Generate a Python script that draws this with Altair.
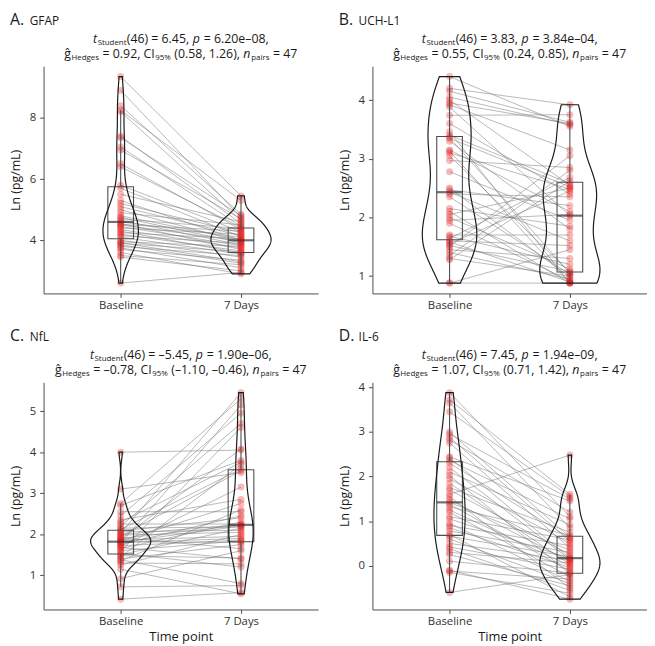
import altair as alt
import numpy as np
import pandas as pd

# ---------------- data ----------------
time_labels = ["Baseline", "7 Days"]
panel_letters = ["A.", "B.", "C.", "D."]
panel_names = ["GFAP", "UCH-L1", "NfL", "IL-6"]

gfap_baseline = [2.6, 3.45, 3.5, 3.6, 3.7, 3.75, 3.8, 3.85, 3.9, 3.92, 3.95, 4.0,
                 4.1, 4.15, 4.2, 4.25, 4.3, 4.35, 4.4, 4.45, 4.5, 4.52, 4.55, 4.6,
                 4.65, 4.7, 4.75, 4.8, 4.9, 5.0, 5.1, 5.2, 5.3, 5.5, 5.7, 5.8,
                 6.4, 6.5, 6.95, 7.05, 7.35, 7.4, 8.2, 8.25, 8.4, 8.9, 9.35]
gfap_day7 = [2.95, 3.0, 3.2, 2.9, 3.35, 3.1, 3.5, 3.25, 3.62, 3.3, 3.8, 3.45,
             3.55, 3.9, 3.65, 4.05, 3.58, 3.75, 4.2, 3.82, 3.98, 4.3, 3.7, 4.1,
             3.85, 4.38, 3.92, 4.02, 4.5, 3.95, 4.15, 4.25, 4.0, 4.6, 4.12, 4.28,
             4.42, 4.35, 4.7, 4.45, 4.8, 4.55, 4.65, 5.3, 4.85, 4.75, 5.45]

uchl1_baseline = [0.88, 0.88, 1.28, 1.3, 1.35, 1.4, 1.45, 1.5, 1.52, 1.55, 1.58, 1.6,
                  1.64, 1.68, 1.7, 1.9, 1.95, 2.0, 2.05, 2.1, 2.15, 2.35, 2.4, 2.43,
                  2.47, 2.5, 2.78, 2.97, 3.05, 3.1, 3.13, 3.15, 3.3, 3.35, 3.36, 3.4,
                  3.46, 3.6, 3.74, 3.88, 3.92, 3.95, 4.0, 4.05, 4.15, 4.2, 4.4]
uchl1_day7 = [0.88, 1.45, 2.62, 1.0, 2.8, 0.95, 1.3, 3.05, 1.08, 2.45, 0.9, 1.52,
              2.68, 1.2, 1.7, 0.92, 2.05, 1.12, 2.5, 0.88, 1.85, 1.03, 2.35, 1.6,
              2.2, 0.98, 1.95, 2.85, 1.06, 2.48, 0.88, 2.1, 1.8, 2.52, 1.05, 2.58,
              0.88, 2.4, 3.75, 2.03, 3.15, 3.6, 2.55, 3.58, 3.62, 3.92, 3.55]

nfl_baseline = [0.42, 0.72, 0.92, 1.15, 1.25, 1.3, 1.35, 1.38, 1.4, 1.45, 1.48, 1.5,
                1.54, 1.58, 1.6, 1.65, 1.68, 1.7, 1.72, 1.75, 1.78, 1.8, 1.81, 1.82,
                1.84, 1.86, 1.88, 1.9, 1.92, 1.95, 1.98, 2.0, 2.03, 2.06, 2.08, 2.12,
                2.15, 2.2, 2.25, 2.3, 2.35, 2.45, 2.55, 2.7, 2.75, 3.1, 4.0]
nfl_day7 = [0.58, 0.75, 1.6, 0.55, 2.0, 1.28, 2.6, 0.8, 1.75, 3.7, 1.42, 2.15,
            1.2, 4.6, 1.84, 2.3, 1.4, 3.15, 1.86, 2.45, 5.15, 1.9, 2.2, 1.8,
            2.75, 1.95, 4.08, 2.22, 1.65, 3.55, 2.05, 2.23, 5.45, 2.1, 2.4, 3.59,
            2.18, 4.7, 2.25, 3.75, 2.85, 4.95, 2.55, 3.8, 5.3, 3.5, 4.05]

il6_baseline = [-0.6, -0.15, -0.12, -0.1, 0.1, 0.25, 0.3, 0.38, 0.42, 0.5, 0.6, 0.66,
                0.7, 0.78, 0.85, 0.9, 0.95, 1.05, 1.1, 1.2, 1.25, 1.32, 1.38, 1.42,
                1.48, 1.55, 1.6, 1.7, 1.75, 1.85, 1.95, 2.02, 2.1, 2.2, 2.3, 2.36,
                2.42, 2.44, 2.75, 2.82, 2.88, 2.95, 3.0, 3.45, 3.65, 3.72, 3.88]
il6_day7 = [-0.2, -0.62, -0.3, -0.75, -0.16, -0.45, 0.06, -0.55, -0.08, 0.12, -0.4, 0.2,
            -0.7, 0.3, -0.04, 0.45, -0.35, 0.16, 0.58, -0.25, 0.0, 0.68, -0.12, 0.35,
            0.1, -0.5, 2.48, 0.25, 0.75, 0.03, 0.5, -0.18, 0.92, 0.14, 0.62, 1.05,
            0.17, 1.45, 0.4, 1.2, 0.55, 1.5, 0.64, 1.55, 0.85, 1.6, 1.1]

series = [(gfap_baseline, gfap_day7), (uchl1_baseline, uchl1_day7),
          (nfl_baseline, nfl_day7), (il6_baseline, il6_day7)]

y_ticks = [[4, 6, 8], [1, 2, 3, 4], [1, 2, 3, 4, 5], [0, 1, 2, 3, 4]]

t_df = "46"
t_stat = ["6.45", "3.83", "–5.45", "7.45"]
p_value = ["6.20e–08", "3.84e–04", "1.90e–06", "1.94e–09"]
g_hedges = ["0.92", "0.55", "–0.78", "1.07"]
ci_low = ["0.58", "0.24", "–1.10", "0.71"]
ci_high = ["1.26", "0.85", "–0.46", "1.42"]
n_pairs = "47"

# ---------------- layout / style ----------------
W, H = 278, 230
FONT = "Open Sans"
TXT = "#1a1a1a"
AX = "#4d4d4d"

# approximate Open Sans advance widths (em)
EM = {' ': 0.26, '(': 0.295, ')': 0.295, ',': 0.245, '.': 0.266, '=': 0.572,
      '–': 0.5, '%': 0.833, 'C': 0.633, 'H': 0.742, 'I': 0.29, 'S': 0.539,
      'a': 0.556, 'd': 0.613, 'e': 0.561, 'g': 0.548, 'ĝ': 0.548, 'i': 0.253,
      'n': 0.614, 'p': 0.613, 'r': 0.408, 's': 0.477, 't': 0.353, 'u': 0.614}
for ch in "0123456789":
    EM[ch] = 0.572


def text_w(s, fs):
    return sum(EM.get(c, 0.55) for c in s) * fs


def text_layer(s, x, y, fs, style="normal"):
    return alt.Chart(pd.DataFrame({"k": [0]})).mark_text(
        align="left", baseline="alphabetic", font=FONT, fontSize=fs,
        fontStyle=style, color=TXT
    ).encode(x=alt.value(x), y=alt.value(y), text=alt.value(s))


def line_layers(segs, y, center):
    gap = 0.3
    total = sum(text_w(s, fs) for s, fs, _, _ in segs) + gap * (len(segs) - 1)
    x = center - total / 2
    out = []
    for s, fs, style, dy in segs:
        lead = len(s) - len(s.lstrip(" "))
        out.append(text_layer(s.strip(" "), x + lead * EM[' '] * fs, y + dy, fs, style))
        x += text_w(s, fs) + gap
    return out


def violin_frame(base, day7):
    frames = []
    for t, vals in ((1, base), (2, day7)):
        x = np.asarray(vals, float)
        n = len(x)
        sd = x.std(ddof=1)
        q1, q3 = np.percentile(x, [25, 75])
        lo = min(sd, (q3 - q1) / 1.34) or sd
        bw = 0.9 * lo * n ** -0.2
        grid = np.linspace(x.min(), x.max(), 256)
        d = np.exp(-0.5 * ((grid[:, None] - x[None, :]) / bw) ** 2).sum(1) / (n * bw * np.sqrt(2 * np.pi))
        frames.append(pd.DataFrame({"t": t, "v": grid, "d": d}))
    return pd.concat(frames, ignore_index=True)


def panel(i, show_xtitle):
    base, day7 = series[i]
    n = len(base)
    df = pd.DataFrame({"id": list(range(n)) * 2, "t": [1] * n + [2] * n, "v": base + day7})
    allv = base + day7
    lo, hi = min(allv), max(allv)
    pad = 0.05 * (hi - lo)
    xs = alt.Scale(domain=[0.4, 2.6], nice=False, zero=False)
    ys = alt.Scale(domain=[lo - pad, hi + pad], nice=False, zero=False)
    xaxis = alt.Axis(values=[1, 2],
                     labelExpr=f"datum.value == 1 ? '{time_labels[0]}' : '{time_labels[1]}'",
                     title="Time point" if show_xtitle else None, grid=False,
                     domainColor=AX, tickColor=AX, tickSize=4, labelPadding=2,
                     labelFontSize=11.5, labelColor="#333333", labelFont=FONT,
                     titleFontSize=13, titleFont=FONT, titleFontWeight="normal",
                     titleColor=TXT, titlePadding=4)
    yaxis = alt.Axis(values=y_ticks[i], title="Ln (pg/mL)", grid=False,
                     domainColor=AX, tickColor=AX, tickSize=4, labelPadding=4,
                     labelFontSize=11.5, labelColor="#333333", labelFont=FONT,
                     titleFontSize=12.5, titleFont=FONT, titleFontWeight="normal",
                     titleColor=TXT, titlePadding=7)
    X = alt.X("t:Q", scale=xs, axis=xaxis)
    Y = alt.Y("v:Q", scale=ys, axis=yaxis)

    lines = alt.Chart(df).mark_line(color="#737373", opacity=0.5, strokeWidth=1).encode(
        x=X, y=Y, detail="id:N")
    points = alt.Chart(df).mark_circle(size=50, color="#E41A1C", opacity=0.3).encode(x=X, y=Y)
    box = alt.Chart(df).mark_boxplot(
        size=26, extent=1.5, outliers=False, orient="vertical",
        box={"fill": "white", "fillOpacity": 0, "stroke": AX, "strokeWidth": 1.1},
        median={"color": "#333333", "thickness": 2.2},
        rule={"color": AX, "strokeWidth": 1.1},
    ).encode(x=X, y=Y)
    vdf = violin_frame(base, day7)
    violin = alt.Chart(vdf).transform_joinaggregate(
        dmax="max(d)"
    ).transform_calculate(
        xl="datum.t - 0.25 * datum.d / datum.dmax",
        xr="datum.t + 0.25 * datum.d / datum.dmax",
    ).mark_area(orient="horizontal", fillOpacity=0, stroke="#1a1a1a", strokeWidth=1.2).encode(
        y=Y, x=alt.X("xl:Q", scale=xs, axis=xaxis), x2="xr:Q", detail="t:N")

    c = W / 2
    M, S = 12.5, 8
    texts = [text_layer(panel_letters[i], -34, -42, 16),
             text_layer(panel_names[i], -14, -42, 12)]
    seg1 = [("t", M, "italic", 0), ("Student", S, "normal", 2.5),
            (f"({t_df}) = {t_stat[i]}, ", M, "normal", 0), ("p", M, "italic", 0),
            (f" = {p_value[i]},", M, "normal", 0)]
    seg2 = [("ĝ", M, "normal", 0), ("Hedges", S, "normal", 2.5),
            (f" = {g_hedges[i]}, CI", M, "normal", 0), ("95%", S, "normal", 2.5),
            (f" ({ci_low[i]}, {ci_high[i]}), ", M, "normal", 0), ("n", M, "italic", 0),
            ("pairs", S, "normal", 2.5), (f" = {n_pairs}", M, "normal", 0)]
    texts += line_layers(seg1, -24, c)
    texts += line_layers(seg2, -8.5, c)

    return alt.layer(lines, points, box, violin, *texts).properties(width=W, height=H)


chart = alt.concat(
    panel(0, False), panel(1, False), panel(2, True), panel(3, True),
    columns=2, spacing={"row": 90, "column": 55}, bounds="flush"
).properties(padding={"left": 1, "top": 0, "right": 0, "bottom": 0}).configure(font=FONT).configure_view(stroke=None)

chart.save("out.html", embed_options={"renderer": "svg", "actions": False})
